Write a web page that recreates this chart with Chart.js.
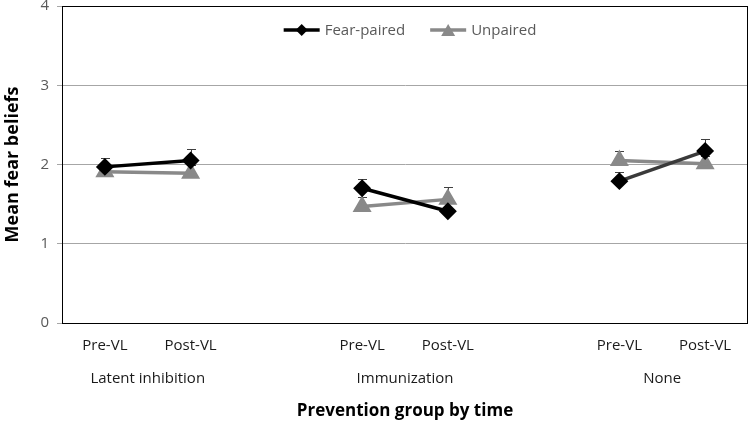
<!DOCTYPE html>
<html>
<head>
<meta charset="utf-8">
<script src="https://cdn.jsdelivr.net/npm/chart.js@4/dist/chart.umd.min.js"></script>
<style>
  body { margin: 0; background: #fff; }
  #wrap { width: 750px; height: 429px; }
</style>
</head>
<body>
<div id="wrap"><canvas id="chart"></canvas></div>
<script>
// categories (blank slots separate the three prevention groups)
const timeLabels = ['Pre-VL', 'Post-VL', '', 'Pre-VL', 'Post-VL', '', 'Pre-VL', 'Post-VL'];
const groupNames = ['Latent inhibition', 'Immunization', 'None'];
const groupCenters = [0.5, 3.5, 6.5];

// means
const fearPaired = [1.97, 2.05, null, 1.70, 1.41, null, 1.79, 2.17];
const unpaired   = [1.91, 1.89, null, 1.47, 1.56, null, 2.05, 2.01];
// standard errors (drawn upward only)
const fearPairedErr = [0.11, 0.14, null, 0.12, 0.10, null, 0.12, 0.15];
const unpairedErr   = [0.10, 0.10, null, 0.12, 0.15, null, 0.12, 0.10];

const yTicks = [0, 1, 2, 3, 4];

const FONT = "'Open Sans', sans-serif";

// no extra room for overhanging tick labels
const noPad = s => { s.paddingTop = 0; s.paddingBottom = 0; s.paddingLeft = 0; s.paddingRight = 0; };

// marker shapes for the legend swatches
const drawMarker = (g, shape, x, y) => {
  g.beginPath();
  if (shape === 'rectRot') {
    g.moveTo(x, y - 6); g.lineTo(x + 6, y); g.lineTo(x, y + 6); g.lineTo(x - 6, y);
  } else {
    g.moveTo(x, y - 6); g.lineTo(x + 7, y + 6); g.lineTo(x - 7, y + 6);
  }
  g.closePath(); g.fill();
};

// legend sits inside the plot area, near the top
const insideLegend = {
  id: 'insideLegend',
  afterDraw(chart) {
    const { ctx, chartArea: a } = chart;
    const swatch = 36, gapText = 5, gapItem = 25;
    ctx.save();
    ctx.font = `15px ${FONT}`;
    const items = chart.data.datasets.map(ds => ({ ds, w: swatch + gapText + ctx.measureText(ds.label).width }));
    const total = items.reduce((s, it) => s + it.w, 0) + gapItem * (items.length - 1);
    let x = (a.left + a.right) / 2 - total / 2 + 5;
    const y = a.top + 24;
    items.forEach(({ ds, w }) => {
      ctx.strokeStyle = ds.borderColor;
      ctx.fillStyle = ds.borderColor;
      ctx.lineWidth = 3.5;
      ctx.beginPath(); ctx.moveTo(x, y); ctx.lineTo(x + swatch, y); ctx.stroke();
      drawMarker(ctx, ds.pointStyle, x + swatch / 2, y);
      ctx.fillStyle = '#595959';
      ctx.textBaseline = 'middle';
      ctx.fillText(ds.label, x + swatch + gapText, y + 1);
      x += w + gapItem;
    });
    ctx.restore();
  }
};

const errorBars = {
  id: 'errorBars',
  beforeDatasetsDraw(chart) {
    const { ctx, scales: { y } } = chart;
    const errs = [fearPairedErr, unpairedErr];
    ctx.save();
    ctx.strokeStyle = '#404040';
    ctx.lineWidth = 1;
    chart.data.datasets.forEach((ds, di) => {
      const meta = chart.getDatasetMeta(di);
      ds.data.forEach((v, i) => {
        if (v == null || errs[di][i] == null) return;
        const px = Math.round(meta.data[i].x) + 0.5;
        const y0 = y.getPixelForValue(v);
        const y1 = Math.round(y.getPixelForValue(v + errs[di][i])) + 0.5;
        ctx.beginPath();
        ctx.moveTo(px, y0); ctx.lineTo(px, y1);
        ctx.moveTo(px - 4.5, y1); ctx.lineTo(px + 4.5, y1);
        ctx.stroke();
      });
    });
    ctx.restore();
  }
};

const plotBox = {
  id: 'plotBox',
  afterDraw(chart) {
    const { ctx, chartArea: a } = chart;
    ctx.save();
    ctx.strokeStyle = '#000';
    ctx.lineWidth = 1;
    ctx.strokeRect(Math.round(a.left) + 0.5, Math.round(a.top) + 0.5,
      Math.round(a.right - a.left) - 1, Math.round(a.bottom - a.top));
    ctx.restore();
  }
};

new Chart(document.getElementById('chart'), {
  type: 'line',
  data: {
    labels: timeLabels,
    datasets: [
      {
        label: 'Fear-paired',
        data: fearPaired,
        borderColor: '#000',
        backgroundColor: '#000',
        borderWidth: 3.5,
        pointStyle: 'rectRot',
        pointRadius: 6.5,
        pointHoverRadius: 6.5,
        segment: { borderColor: c => c.p0DataIndex === 6 ? '#3a3a3a' : '#000' },
        spanGaps: false
      },
      {
        label: 'Unpaired',
        data: unpaired,
        borderColor: '#898989',
        backgroundColor: '#898989',
        borderWidth: 3.5,
        pointStyle: 'triangle',
        pointRadius: 7.5,
        pointHoverRadius: 7.5,
        spanGaps: false
      }
    ]
  },
  options: {
    responsive: true,
    maintainAspectRatio: false,
    animation: false,
    layout: { autoPadding: false, padding: { top: 6, right: 2, left: 0, bottom: 0 } },
    plugins: {
      tooltip: { enabled: false },
      legend: { display: false }
    },
    scales: {
      y: {
        min: 0,
        max: 4,
        afterBuildTicks: s => { s.ticks = yTicks.map(v => ({ value: v })); },
        afterFit: s => { s.width = 62; noPad(s); },
        grid: { color: '#a6a6a6', tickLength: 5, tickColor: '#a6a6a6' },
        border: { color: '#000', width: 1 },
        ticks: { color: '#595959', font: { family: FONT, size: 15 }, padding: 8 },
        title: {
          display: true,
          text: 'Mean fear beliefs',
          color: '#000',
          font: { family: FONT, size: 18, weight: 'bold' },
          padding: { top: 2, bottom: 0 }
        }
      },
      x: {
        type: 'category',
        offset: true,
        weight: 0,
        afterFit: s => { s.height = 40; noPad(s); },
        grid: { display: false, drawTicks: false },
        border: { display: false },
        ticks: { color: '#1a1a1a', font: { family: FONT, size: 15 }, padding: 14, maxRotation: 0, autoSkip: false }
      },
      x2: {
        type: 'linear',
        position: 'bottom',
        weight: 1,
        min: -0.5,
        max: 7.5,
        afterBuildTicks: s => { s.ticks = groupCenters.map(v => ({ value: v })); },
        afterFit: s => { s.height = 66; noPad(s); },
        grid: { display: false, drawTicks: false },
        border: { display: false },
        ticks: {
          color: '#1a1a1a',
          font: { family: FONT, size: 15 },
          padding: 7,
          maxRotation: 0,
          autoSkip: false,
          callback: v => groupNames[groupCenters.indexOf(v)]
        },
        title: {
          display: true,
          text: 'Prevention group by time',
          color: '#000',
          font: { family: FONT, size: 17, weight: 'bold' },
          padding: { top: 0, bottom: 8 }
        }
      }
    }
  },
  plugins: [errorBars, plotBox, insideLegend]
});
</script>
</body>
</html>
